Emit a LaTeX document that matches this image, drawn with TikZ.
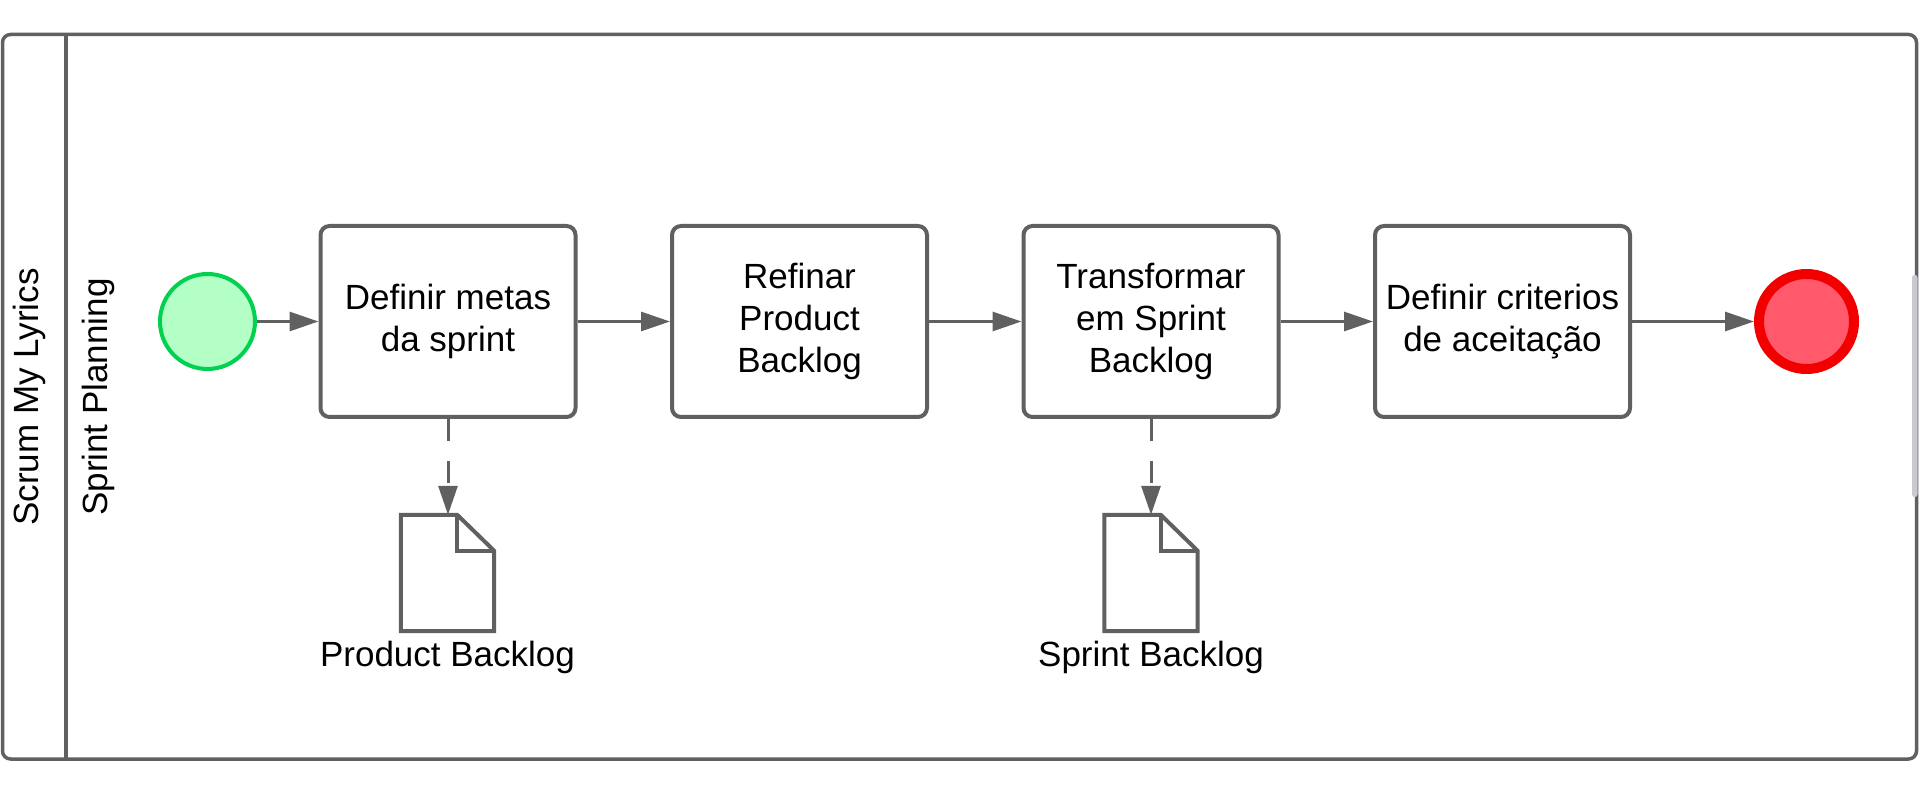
\documentclass[tikz,border=0pt]{standalone}
\usepackage{fontspec}
\setmainfont{Liberation Sans}
\usetikzlibrary{arrows.meta,calc}
\definecolor{linegray}{HTML}{606060}
\definecolor{startstroke}{HTML}{00D150}
\definecolor{startfill}{HTML}{B3FFC6}
\definecolor{endstroke}{HTML}{F20000}
\definecolor{endfill}{HTML}{FF596B}
\definecolor{scrollgray}{HTML}{C9CAD0}
\begin{document}
\begin{tikzpicture}[x=1pt,y=1pt,
  txt/.style={font=\fontsize{35}{42}\selectfont, text=black, align=center},
  task/.style={txt, draw=linegray, line width=4pt, rounded corners=9pt, fill=white,
    minimum width=255pt, minimum height=191pt, inner sep=0pt},
  startev/.style={circle, draw=startstroke, fill=startfill, line width=4pt, minimum size=95pt, inner sep=0pt},
  endev/.style={circle, draw=endstroke, fill=endfill, line width=10pt, minimum size=95pt, inner sep=0pt},
  docbox/.style={minimum width=93pt, minimum height=116pt, inner sep=0pt},
  docline/.style={draw=linegray, line width=4pt, fill=white},
  flow/.style={draw=linegray, line width=3pt, -{Triangle[length=29pt,width=19pt]}},
  assoc/.style={flow, dash pattern=on 22pt off 20pt},
  lanelbl/.style={txt, rotate=90, inner sep=0pt}
]
\useasboundingbox (0,0) rectangle (1920,-791);

% pool frame
\draw[linegray, line width=3.5pt, rounded corners=8pt] (2.5,-34.5) rectangle (1916.5,-759);
\draw[linegray, line width=3.5pt] (66,-34.5) -- (66,-759);
\fill[scrollgray, rounded corners=2.5pt] (1912,-275) rectangle (1917.5,-497);

% lane labels
\node[lanelbl] (pool) at (29,-397) {Scrum My Lyrics};
\node[lanelbl] (lane) at (98,-397) {Sprint Planning};

% events
\node[startev] (s) at (207.5,-321.5) {};
\node[endev] (e) at (1806.5,-321.5) {};

% tasks
\node[task] (t1) at (448,-321.5) {Definir metas\\da sprint};
\node[task] (t2) at (799.5,-321.5) {Refinar\\Product\\Backlog};
\node[task] (t3) at (1151,-321.5) {Transformar\\em Sprint\\Backlog};
\node[task] (t4) at (1502.5,-321.5) {Definir criterios\\de aceitação};

% data objects
\node[docbox] (d1) at (447.5,-573) {};
\node[docbox] (d2) at (1151,-573) {};
\foreach \d in {d1,d2}{
  \draw[docline, line join=miter]
    (\d.north west) -- ($(\d.north east)+(-37,0)$) -- ($(\d.north east)+(0,-36)$)
    -- (\d.south east) -- (\d.south west) -- cycle;
  \draw[docline, fill=none, line join=miter]
    ($(\d.north east)+(-37,0)$) -- ($(\d.north east)+(-37,-36)$) -- ($(\d.north east)+(0,-36)$);
}
\node[txt, inner sep=0pt] (l1) at (447.5,-657) {Product Backlog};
\node[txt, inner sep=0pt] (l2) at (1151,-657) {Sprint Backlog};

% sequence flows
\draw[flow] (s) -- (t1);
\draw[flow] (t1) -- (t2);
\draw[flow] (t2) -- (t3);
\draw[flow] (t3) -- (t4);
\draw[flow] (t4) -- (e);

% associations
\draw[assoc] (t1.south) -- (t1.south |- d1.north);
\draw[assoc] (t3.south) -- (t3.south |- d2.north);
\end{tikzpicture}
\end{document}
